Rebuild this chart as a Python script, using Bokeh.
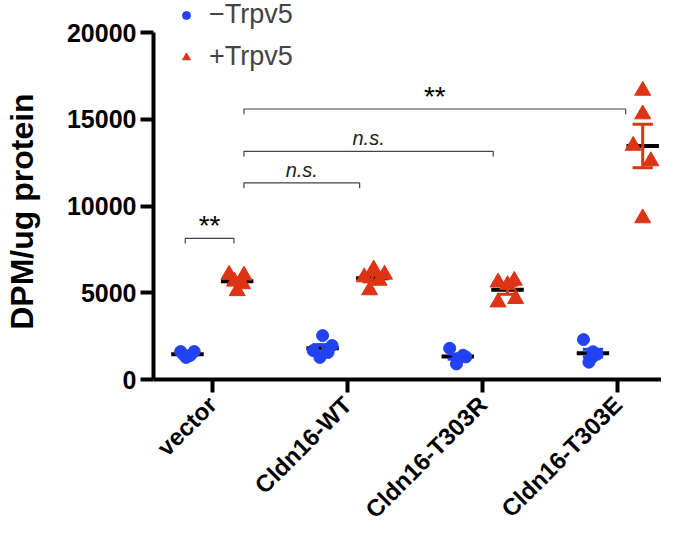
import math
import numpy as np
from bokeh.plotting import figure
from bokeh.models import Range1d, FixedTicker, Legend, LegendItem
from bokeh.core.properties import value
from bokeh.embed import file_html
from bokeh.resources import INLINE

# ---------------- data ----------------
categories = ["vector", "Cldn16-WT", "Cldn16-T303R", "Cldn16-T303E"]
series_names = ["\u2212Trpv5", "+Trpv5"]
y_title = "DPM/ug protein"

minus_trpv5 = [
    [1610, 1610, 1270, 1380, 1440],
    [2530, 1670, 1270, 1960, 1560],
    [1800, 1400, 900, 1300, 1200],
    [2300, 1600, 1450, 1250, 1000],
]
plus_trpv5 = [
    [6050, 6000, 5100, 5650, 5500],
    [6350, 6050, 5900, 5700, 5150],
    [5700, 5600, 5450, 4450, 4650],
    [16650, 15290, 13480, 12590, 9300],
]
# small horizontal scatter of the points (category units)
minus_jitter = [
    [-0.05, 0.05, -0.01, 0.02, -0.03],
    [0.00, -0.07, -0.02, 0.07, 0.04],
    [-0.06, 0.04, -0.01, 0.06, 0.00],
    [-0.07, 0.00, 0.03, -0.01, -0.03],
]
plus_jitter = [
    [-0.06, 0.05, 0.00, -0.02, 0.04],
    [0.01, 0.09, -0.06, 0.05, -0.02],
    [0.05, -0.07, 0.00, -0.07, 0.06],
    [0.00, 0.00, -0.07, 0.06, 0.00],
]
y_ticks = [0, 5000, 10000, 15000, 20000]

# significance brackets
bracket_x1 = [0.80, 1.234, 1.234, 1.234]
bracket_x2 = [1.16, 2.09, 3.078, 4.058]
bracket_y = [8140, 11330, 13150, 15590]
bracket_labels = ["**", "n.s.", "n.s.", "**"]

# ---------------- styling ----------------
BLUE = "#2243F2"
RED = "#DC3414"
FONT = "Liberation Sans"
side_offset = 0.184
hook = 300

p = figure(width=661, height=520, output_backend="svg", toolbar_location=None,
           x_range=Range1d(0.565, 4.323), y_range=Range1d(-8127, 21845),
           min_border_left=151, min_border_right=0, min_border_top=0, min_border_bottom=0)
p.outline_line_color = None
p.grid.grid_line_color = None
p.background_fill_color = "white"

def add_series(values, jitter, sign, color, marker, size):
    xs, ys = [], []
    mx0, mx1, my = [], [], []
    ex, ey0, ey1 = [], [], []
    for i, (vals, jit) in enumerate(zip(values, jitter)):
        c = i + 1 + sign * side_offset
        for v, j in zip(vals, jit):
            xs.append(c + j)
            ys.append(v)
        arr = np.array(vals, dtype=float)
        m = arr.mean()
        sem = arr.std(ddof=1) / math.sqrt(len(arr))
        mx0.append(c - 0.12); mx1.append(c + 0.12); my.append(m)
        ex.append(c); ey0.append(m - sem); ey1.append(m + sem)
    p.segment(mx0, my, mx1, my, line_color="black", line_width=4)
    r = p.scatter(xs, ys, marker=marker, size=size, fill_color=color, line_color=color)
    p.segment(ex, ey0, ex, ey1, line_color=color, line_width=3)
    cx0 = [x - 0.075 for x in ex]; cx1 = [x + 0.075 for x in ex]
    p.segment(cx0, ey0, cx1, ey0, line_color=color, line_width=3)
    p.segment(cx0, ey1, cx1, ey1, line_color=color, line_width=3)
    return r

r_minus = add_series(minus_trpv5, minus_jitter, -1, BLUE, "circle", 12)
r_plus = add_series(plus_trpv5, plus_jitter, +1, RED, "triangle", 16)

# brackets
bxs = [[a, a, b, b] for a, b in zip(bracket_x1, bracket_x2)]
bys = [[y - hook, y, y, y - hook] for y in bracket_y]
p.multi_line(bxs, bys, line_color="#444444", line_width=1.2)
for a, b, y, lab in zip(bracket_x1, bracket_x2, bracket_y, bracket_labels):
    if lab == "**":
        p.text([(a + b) / 2], [y], text=[lab], text_align="center", text_baseline="alphabetic",
               y_offset=-13, text_font=value(FONT), text_font_size="28px", text_color="black")
    else:
        p.text([(a + b) / 2], [y], text=[lab], text_align="center", text_baseline="alphabetic",
               y_offset=-13, text_font=value(FONT), text_font_size="20px",
               text_font_style="italic", text_color="#222222")

# axes
for ax in (p.xaxis[0], p.yaxis[0]):
    ax.axis_line_width = 4
    ax.axis_line_color = "black"
    ax.major_tick_line_width = 4
    ax.major_tick_line_color = "black"
    ax.major_tick_out = 13
    ax.major_tick_in = 0
    ax.minor_tick_line_color = None
    ax.major_label_text_font = FONT
    ax.major_label_text_font_style = "bold"
    ax.major_label_text_color = "black"

p.yaxis.ticker = FixedTicker(ticks=y_ticks)
p.yaxis.bounds = (y_ticks[0], y_ticks[-1])
p.yaxis.major_label_text_font_size = "25px"
p.yaxis.major_label_standoff = 4
# the frame runs down to the bottom edge; leading no-break spaces lift the
# centred title to the middle of the 0-20000 axis line
p.yaxis.axis_label = "\u00a0" * 11 + y_title
p.yaxis.axis_label_text_font = FONT
p.yaxis.axis_label_text_font_style = "bold"
p.yaxis.axis_label_text_font_size = "32px"
p.yaxis.axis_label_text_color = "black"
p.yaxis.axis_label_standoff = 24

# x axis drawn at y = 0 so that its long rotated names may run toward the bottom edge
p.xaxis.fixed_location = 0
p.xaxis.ticker = FixedTicker(ticks=[1, 2, 3, 4])
p.xaxis.major_label_overrides = {i + 1: c for i, c in enumerate(categories)}
p.xaxis.major_label_orientation = math.pi / 4
p.xaxis.major_label_text_font_size = "24px"
p.xaxis.major_label_standoff = 8

legend = Legend(items=[LegendItem(label=series_names[0], renderers=[r_minus]),
                       LegendItem(label=series_names[1], renderers=[r_plus])],
                location=(23, 448), background_fill_alpha=0, border_line_color=None,
                label_text_font=FONT, label_text_font_size="27px", label_standoff=13,
                glyph_width=20, spacing=11, padding=0, margin=0)
p.add_layout(legend)

open("out.html", "w").write(file_html(p, INLINE))
